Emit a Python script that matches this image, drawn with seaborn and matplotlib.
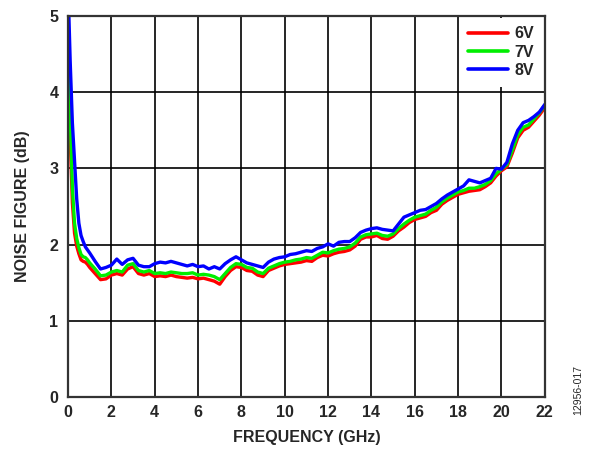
import numpy as np
import pandas as pd
import matplotlib
matplotlib.use("Agg")
import matplotlib.pyplot as plt
import seaborn as sns

# Frequency points (GHz)
freq = [0.02, 0.1, 0.2, 0.3, 0.4, 0.5, 0.6, 0.7, 0.8, 0.9,
        1.0, 1.25, 1.5, 1.75, 2.0, 2.25, 2.5, 2.75, 3.0, 3.25,
        3.5, 3.75, 4.0, 4.25, 4.5, 4.75, 5.0, 5.25, 5.5, 5.75,
        6.0, 6.25, 6.5, 6.75, 7.0, 7.25, 7.5, 7.75, 8.0, 8.25,
        8.5, 8.75, 9.0, 9.25, 9.5, 9.75, 10.0, 10.25, 10.5, 10.75,
        11.0, 11.25, 11.5, 11.75, 12.0, 12.25, 12.5, 12.75, 13.0, 13.25,
        13.5, 13.75, 14.0, 14.25, 14.5, 14.75, 15.0, 15.25, 15.5, 15.75,
        16.0, 16.25, 16.5, 16.75, 17.0, 17.25, 17.5, 17.75, 18.0, 18.25,
        18.5, 18.75, 19.0, 19.25, 19.5, 19.75, 20.0, 20.25, 20.5, 20.75,
        21.0, 21.25, 21.5, 21.75, 22.0]

# Noise figure (dB) per supply voltage
nf_6v = [4.40, 3.40, 2.55, 2.15, 1.98, 1.88, 1.80, 1.78, 1.77, 1.74,
         1.70, 1.62, 1.54, 1.55, 1.60, 1.62, 1.60, 1.68, 1.71, 1.62,
         1.60, 1.62, 1.58, 1.59, 1.58, 1.60, 1.58, 1.57, 1.56, 1.57,
         1.55, 1.56, 1.54, 1.52, 1.48, 1.58, 1.66, 1.71, 1.70, 1.66,
         1.65, 1.60, 1.58, 1.66, 1.69, 1.72, 1.74, 1.75, 1.76, 1.77,
         1.79, 1.78, 1.83, 1.86, 1.85, 1.88, 1.90, 1.91, 1.93, 1.98,
         2.07, 2.10, 2.10, 2.12, 2.08, 2.07, 2.11, 2.18, 2.23, 2.29,
         2.33, 2.35, 2.37, 2.42, 2.45, 2.53, 2.58, 2.62, 2.66, 2.68,
         2.70, 2.71, 2.72, 2.76, 2.81, 2.90, 2.97, 3.02, 3.20, 3.40,
         3.50, 3.54, 3.62, 3.70, 3.80]

nf_7v = [4.70, 3.70, 2.75, 2.28, 2.08, 1.96, 1.87, 1.84, 1.83, 1.80,
         1.76, 1.68, 1.59, 1.60, 1.64, 1.66, 1.64, 1.73, 1.75, 1.66,
         1.64, 1.66, 1.62, 1.63, 1.62, 1.64, 1.63, 1.62, 1.62, 1.63,
         1.60, 1.61, 1.60, 1.58, 1.54, 1.62, 1.70, 1.75, 1.74, 1.70,
         1.69, 1.64, 1.62, 1.69, 1.72, 1.75, 1.77, 1.78, 1.80, 1.81,
         1.83, 1.82, 1.86, 1.90, 1.89, 1.92, 1.94, 1.95, 1.97, 2.02,
         2.10, 2.13, 2.14, 2.15, 2.12, 2.11, 2.14, 2.21, 2.27, 2.32,
         2.36, 2.38, 2.40, 2.45, 2.49, 2.56, 2.61, 2.65, 2.69, 2.71,
         2.74, 2.74, 2.76, 2.79, 2.84, 2.93, 2.99, 3.05, 3.24, 3.44,
         3.54, 3.57, 3.65, 3.73, 3.83]

nf_8v = [5.20, 4.40, 3.60, 3.10, 2.60, 2.28, 2.12, 2.04, 1.97, 1.93,
         1.89, 1.78, 1.68, 1.70, 1.73, 1.81, 1.74, 1.80, 1.82, 1.73,
         1.71, 1.71, 1.75, 1.77, 1.76, 1.78, 1.76, 1.74, 1.72, 1.74,
         1.71, 1.72, 1.68, 1.71, 1.68, 1.75, 1.80, 1.84, 1.80, 1.76,
         1.74, 1.72, 1.70, 1.77, 1.81, 1.83, 1.84, 1.87, 1.88, 1.90,
         1.92, 1.91, 1.95, 1.97, 2.01, 1.98, 2.03, 2.04, 2.04, 2.09,
         2.16, 2.19, 2.21, 2.22, 2.20, 2.19, 2.18, 2.27, 2.36, 2.39,
         2.42, 2.45, 2.46, 2.50, 2.54, 2.60, 2.65, 2.69, 2.73, 2.77,
         2.85, 2.83, 2.81, 2.84, 2.87, 3.00, 2.99, 3.08, 3.32, 3.50,
         3.60, 3.63, 3.68, 3.74, 3.84]

series_names = ["6V", "7V", "8V"]
series_colors = ["#ff0000", "#00ee00", "#0000ff"]
x_ticks = list(range(0, 23, 2))
y_ticks = [0, 1, 2, 3, 4, 5]

df = pd.concat([
    pd.DataFrame({"freq": freq, "nf": vals, "supply": name})
    for name, vals in zip(series_names, [nf_6v, nf_7v, nf_8v])
], ignore_index=True)

sns.set_theme(style="white")
plt.rcParams["font.family"] = ["Liberation Sans", "DejaVu Sans"]
plt.rcParams["font.weight"] = "bold"

FS = 11.5

fig = plt.figure(figsize=(5.89, 4.49), dpi=100)
ax = fig.add_axes([0.1155, 0.1158, 0.8095, 0.8486])

sns.lineplot(data=df, x="freq", y="nf", hue="supply",
             palette=dict(zip(series_names, series_colors)),
             linewidth=2.4, ax=ax, sort=False, estimator=None)

ax.set_xlim(0, 22)
ax.set_ylim(0, 5)
ax.set_xticks(x_ticks)
ax.set_yticks(y_ticks)
ax.tick_params(axis="both", length=0, labelsize=FS)
ax.tick_params(axis="x", pad=6)
ax.tick_params(axis="y", pad=7)
for lab in ax.get_xticklabels() + ax.get_yticklabels():
    lab.set_fontweight("bold")
ax.grid(True, color="black", linewidth=1.2)
ax.set_axisbelow(True)
for sp in ax.spines.values():
    sp.set_color("#333333")
    sp.set_linewidth(1.6)

ax.set_xlabel("FREQUENCY (GHz)", fontsize=FS, fontweight="bold", labelpad=7)
ax.set_ylabel("NOISE FIGURE (dB)", fontsize=FS, fontweight="bold", labelpad=14)

leg = ax.legend(loc="upper right", frameon=True, fontsize=FS,
                handlelength=2.45, handletextpad=0.45, labelspacing=0.2,
                borderaxespad=0.1, borderpad=0.55)
leg.get_frame().set_facecolor("white")
leg.get_frame().set_edgecolor("none")
leg.get_frame().set_alpha(1)
leg.get_frame().set_boxstyle("square", pad=0.0)
for txt in leg.get_texts():
    txt.set_fontweight("bold")
for line in leg.get_lines():
    line.set_linewidth(2.6)

fig.text(0.982, 0.075, "12956-017", rotation=90, fontsize=7.5,
         fontweight="normal", ha="center", va="bottom")

fig.savefig("out.png", dpi=100)
